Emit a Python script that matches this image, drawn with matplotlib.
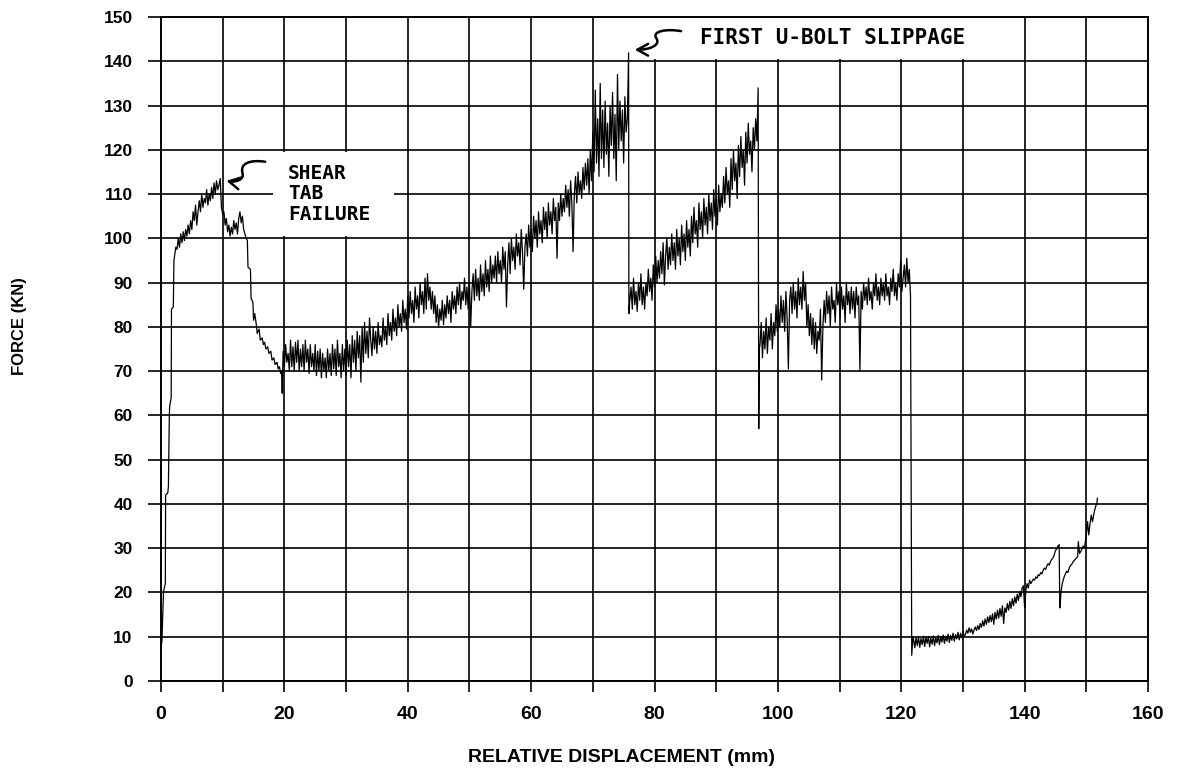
import numpy as np
import matplotlib
matplotlib.use("Agg")
import matplotlib.pyplot as plt
from matplotlib.patches import Rectangle, FancyArrowPatch
from matplotlib.path import Path

# ---------------- data ----------------
# initial rise (explicit points)
segA_x = [0.0, 0.0, 0.1, 0.15, 0.4, 0.45, 0.7, 0.75, 1.1, 1.2, 1.35, 1.4, 1.65, 1.7, 2.0, 2.1]
segA_y = [0, 8, 8.5, 9, 20, 20.5, 22, 42, 42.5, 44, 60, 62, 64, 84, 84.5, 95]

# noisy rise to shear-tab failure
segB_range = (2.2, 9.6)
segB_y = [96, 98, 97.5, 100, 98, 101, 99, 101.5, 99.5, 102,
          100.5, 103, 101, 104, 102, 106, 104, 107.5, 103, 106,
          108.5, 106, 110, 107, 109, 108, 111, 107.5, 110, 108.5,
          111.5, 109, 112.5, 110, 113, 111, 112, 113.5]

# after failure
segC_range = (9.8, 13.8)
segC_y = [107, 105.5, 106, 103, 104.5, 101.5, 103, 100.5, 102.5, 101,
          104, 102, 103.5, 101, 104.5, 106, 103.5, 105, 102, 101, 100]

# decline (explicit points)
segD_x = [14.0, 14.1, 14.5, 14.6, 14.9, 15.0, 15.2, 15.5, 15.6, 15.9, 16.1, 16.4,
          16.6, 16.8, 17.0, 17.3, 17.5, 17.8, 18.0, 18.3, 18.5, 18.8, 19.0, 19.2,
          19.4, 19.5, 19.6, 19.65]
segD_y = [99.5, 93.5, 93, 86.5, 85.5, 81.5, 83, 80, 78.5, 79.5, 77, 77.5,
          76, 76.5, 75, 75.5, 74, 74.5, 72.5, 73, 71.5, 72, 70.5, 71,
          69.5, 70, 68, 65]

# plateau ~70-77 kN
segE_range = (19.8, 33.8)
segE_y = [74.5, 71, 76, 72, 74, 70, 77, 71, 75.5, 70, 76.5, 72, 77, 70, 75, 71, 76, 70, 77, 72, 75, 69.5, 76, 71, 74,
          70, 76, 69, 74.5, 70, 75, 68.5, 74, 70, 73, 68.5, 75, 70, 74, 69, 76, 70.5, 75, 69, 77, 71, 74, 68.5, 76, 70,
          75, 69, 77, 71, 76, 68.5, 78, 72, 77, 70, 79, 73, 78, 67.5, 80, 72, 81, 74, 79, 73, 82]

# long rise to first U-bolt slippage
segF_range = (34.0, 75.8)
segF_y = [77, 73.5, 80, 75, 79, 74, 81, 76, 78, 75.5, 82, 77, 80, 76, 83, 78, 81, 77, 84, 79, 82, 78, 85, 80, 83,
          79, 86, 81, 84, 79.5, 87, 82, 88, 83, 86, 81, 89, 84, 87, 82, 90, 85, 88, 83, 91, 84, 92, 86, 89, 84,
          88, 83, 87, 81, 85, 80, 84, 81.5, 86, 80.5, 85, 82, 87, 83, 86, 81, 88, 84, 87, 83, 89, 85, 90, 84, 88,
          86, 91, 85, 89, 84, 90, 80, 88, 92, 86, 93, 87, 91, 86, 94, 88, 92, 87, 95, 89, 93, 88, 96, 90, 94,
          91, 96, 90, 97, 92, 95, 90, 98, 93, 97, 84.5, 94, 99, 92, 100, 95, 98, 93, 101, 96, 99, 94, 102, 97, 88.5,
          98, 101, 96, 103, 98, 102, 97, 105, 100, 104, 98, 106, 101, 104, 99, 107, 102, 106, 100, 108, 103, 106, 101, 109, 104,
          107, 95.5, 108, 104, 110, 105, 109, 106, 112, 107, 111, 105, 113, 108, 97, 110, 114, 108, 115, 110, 113, 109, 116, 111, 117,
          112, 118, 110, 120, 113, 124, 115, 133.5, 117, 127, 114, 135, 118, 129, 116, 131, 119, 126, 114, 130, 121, 133, 118, 128, 113,
          137, 120, 131, 122, 129, 117, 132, 124, 127, 141.9]
drop1_x = [75.85]
drop1_y = [83]

# second rise
segG_range = (76.0, 96.8)
segG_y = [86, 89, 84, 91, 85, 88, 83.5, 90, 86, 92, 85, 89, 84, 90, 87, 93, 88, 91, 86, 94, 89, 96, 90, 95, 91,
          97, 92, 99, 89.5, 96, 100, 93, 98, 94, 101, 95, 99, 93, 102, 96, 100, 94, 103, 97, 101, 95, 104, 98, 102, 96,
          105, 99, 107, 101, 104, 98, 108, 102, 106, 100, 109, 103, 107, 101, 110, 104, 108, 102, 111, 105, 109, 103, 112, 106, 110,
          107, 114, 108, 116, 110, 113, 107, 118, 111, 120, 113, 117, 109, 121, 114, 123, 116, 120, 112, 124, 117, 126, 119, 122, 115,
          125, 120, 127, 122, 134]
drop2_x = [96.9, 97.0]
drop2_y = [57, 75]

# third plateau ~80-92 kN
segH_range = (97.1, 121.5)
segH_y = [76, 81, 73, 79, 75, 82, 74, 80, 77, 83, 75, 81, 78, 85, 79, 84, 80, 87, 81, 86, 79, 88, 82, 70.5, 86,
          89, 83, 90, 84, 88, 82, 91, 85, 89, 84, 92.5, 86, 90, 80, 85, 78, 83, 76, 82, 75, 81, 74, 79, 77, 84,
          68, 80, 86, 81, 88, 83, 87, 80, 89, 84, 86, 81, 90, 85, 88, 82, 89, 84, 87, 81, 90, 85, 88, 83, 89,
          84, 88, 82, 89, 85, 87, 70, 88, 84, 90, 86, 89, 85, 91, 86, 88, 84, 90, 87, 92, 86, 89, 85, 91, 87,
          90, 86, 92, 87, 89, 85, 91, 88, 93, 87, 90, 86, 92, 89, 95, 88, 91, 94, 89, 95.5, 90, 93, 87]
drop3_x = [121.7, 121.9]
drop3_y = [5.8, 10]

# low plateau
segI_range = (122.0, 130.2)
segI_y = [9.5, 7.5, 9.8, 8, 10, 7.6, 9.6, 8.2, 10.1, 7.8, 9.9, 8.5, 10, 7.7, 9.7, 8.3, 10.2, 8, 9.8, 8.6, 10.3,
          8.2, 10, 8.8, 10.4, 8.5, 10.1, 9, 10.6, 8.7, 10.3, 9.2, 10.8, 9, 10.5, 9.5, 11, 9.3, 10.8, 9.8, 11.2, 10]

# final rise
segJ_range = (130.4, 145.6)
segJ_y = [10.5, 11.5, 10.8, 12, 11, 11.8, 10.6, 11.5, 12.2, 11.4,
          12.5, 11.6, 13, 12.1, 13.6, 12.4, 14, 12.8, 14.5, 13.2,
          14.8, 13.4, 15.2, 12.8, 15.5, 14, 16, 14.2, 16.4, 14.6,
          17, 13, 16.5, 15.5, 17.5, 16, 18, 16.4, 18.6, 17,
          19, 17.6, 19.6, 18.2, 20.2, 19, 21, 21.5, 16.5, 20.5,
          22, 21, 22.8, 22, 22.5, 23, 22.8, 23.5, 23.2, 24,
          23.8, 24.5, 24.2, 25, 25.5, 25.2, 26, 26.5, 26.2, 27,
          27.5, 27.8, 28.5, 29.5, 29.8, 30.5, 30.8]
drop4_x = [145.7, 145.8, 145.9]
drop4_y = [16.5, 18, 20.2]

segK_x = [146.1, 146.4, 146.8, 147.0, 147.3, 147.6, 147.9, 148.2, 148.6, 148.7, 148.9, 149.2,
          149.5, 149.7, 150.0, 150.2, 150.4, 150.6, 150.8, 151.0, 151.3, 151.6, 151.7, 151.8]
segK_y = [22, 23.5, 24.8, 24.5, 25.8, 26.3, 27, 27.5, 28.1, 31.5, 28.8, 29.5,
          30.5, 30, 33, 36, 33, 35.5, 37.5, 36, 38.3, 39.8, 40, 41.3]

x_ticks = list(range(0, 161, 10))
x_ticklabels = [str(v) if v % 20 == 0 else "" for v in x_ticks]
y_ticks = list(range(0, 151, 10))

shear_text = "SHEAR\nTAB\nFAILURE"
slip_text = "FIRST U-BOLT SLIPPAGE"
x_title = "RELATIVE DISPLACEMENT (mm)"
y_title = "FORCE (KN)"

# ---------------- assemble trace ----------------
def seg(rng, ys):
    return list(np.linspace(rng[0], rng[1], len(ys))), list(ys)

parts = [
    (segA_x, segA_y),
    seg(segB_range, segB_y),
    seg(segC_range, segC_y),
    (segD_x, segD_y),
    seg(segE_range, segE_y),
    seg(segF_range, segF_y),
    (drop1_x, drop1_y),
    seg(segG_range, segG_y),
    (drop2_x, drop2_y),
    seg(segH_range, segH_y),
    (drop3_x, drop3_y),
    seg(segI_range, segI_y),
    seg(segJ_range, segJ_y),
    (drop4_x, drop4_y),
    (segK_x, segK_y),
]
xs, ys = [], []
for px, py in parts:
    xs += list(px)
    ys += list(py)

# ---------------- figure ----------------
fig = plt.figure(figsize=(11.77, 7.72), dpi=100)
ax = fig.add_axes([161 / 1177, 1 - 681 / 772, 987 / 1177, 664 / 772])

ax.set_xlim(0, 160)
ax.set_ylim(0, 150)
ax.set_xticks(x_ticks)
ax.set_xticklabels(x_ticklabels)
ax.set_yticks(y_ticks)
ax.set_axisbelow(True)
ax.grid(True, color="black", linewidth=1.2, zorder=0.5)
for sp in ax.spines.values():
    sp.set_linewidth(1.4)
    sp.set_color("black")

ax.tick_params(axis="y", length=9.5, width=1.2, pad=11, labelsize=12.5)
ax.tick_params(axis="x", length=8, width=1.2, pad=10, labelsize=14)
for lab in ax.get_yticklabels():
    lab.set_fontfamily(["Liberation Sans", "DejaVu Sans"])
    lab.set_fontweight("bold")
for lab in ax.get_xticklabels():
    lab.set_fontfamily(["Liberation Sans", "DejaVu Sans"])
    lab.set_fontweight("bold")

ax.plot(xs, ys, color="black", linewidth=0.9, zorder=2)

# white annotation boxes hiding the grid
ax.add_patch(Rectangle((18.2, 100.5), 19.6, 19.0, facecolor="white", edgecolor="none", zorder=1))
ax.add_patch(Rectangle((78.0, 140.4), 60.0, 9.3, facecolor="white", edgecolor="none", zorder=1))

ax.text(20.6, 116.9, shear_text, family="DejaVu Sans Mono", fontsize=14, fontweight="bold",
        ha="left", va="top", linespacing=1.1, zorder=3)
ax.text(87.4, 145.2, slip_text, family="DejaVu Sans Mono", fontsize=15, fontweight="bold",
        ha="left", va="center", zorder=3)

# hand-drawn style arrows
p1 = Path([(16.9, 117.3), (14.5, 117.8), (12.8, 117.0), (13.2, 114.8),
           (13.6, 113.2), (12.0, 112.6), (10.6, 113.0)],
          [Path.MOVETO, Path.CURVE4, Path.CURVE4, Path.CURVE4,
           Path.CURVE4, Path.CURVE4, Path.CURVE4])
ax.add_patch(FancyArrowPatch(path=p1, arrowstyle="->,head_length=0.55,head_width=0.3",
                             mutation_scale=14, color="black", linewidth=1.8, zorder=3))
p2 = Path([(84.3, 146.8), (82.0, 147.4), (79.5, 146.8), (80.3, 145.2),
           (81.0, 143.8), (79.5, 142.6), (76.8, 142.6)],
          [Path.MOVETO, Path.CURVE4, Path.CURVE4, Path.CURVE4,
           Path.CURVE4, Path.CURVE4, Path.CURVE4])
ax.add_patch(FancyArrowPatch(path=p2, arrowstyle="->,head_length=0.55,head_width=0.3",
                             mutation_scale=14, color="black", linewidth=1.8, zorder=3))

fig.text(622 / 1177, 1 - 758 / 772, x_title, ha="center", va="center",
         family=["Liberation Sans", "DejaVu Sans"],
         fontweight="bold", fontsize=14)
fig.text(20 / 1177, 1 - 326 / 772, y_title, ha="center", va="center", rotation=90,
         family=["Liberation Sans", "DejaVu Sans"],
         fontweight="bold", fontsize=12)

fig.savefig("out.png", dpi=100, facecolor="white")
